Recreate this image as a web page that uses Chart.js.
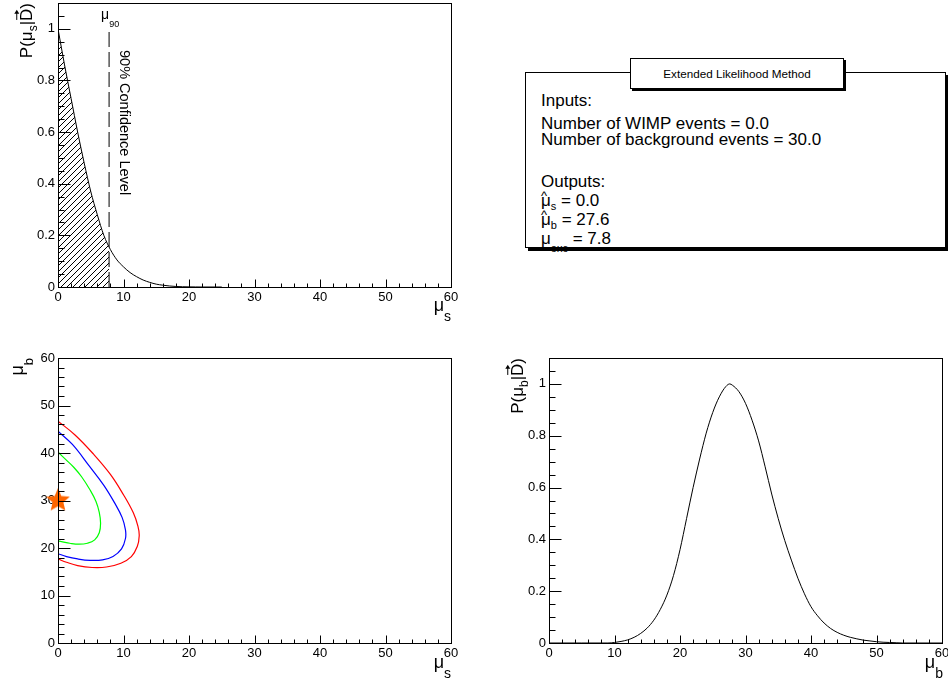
<!DOCTYPE html>
<html>
<head>
<meta charset="utf-8">
<script src="https://cdn.jsdelivr.net/npm/chart.js@4.4.1/dist/chart.umd.min.js"></script>
<style>
    body { margin: 0; width: 948px; height: 683px; position: relative; overflow: hidden; background: #fff;
           font-family: "Liberation Sans", Arial, sans-serif; color: #000; }
    canvas { position: absolute; }
    #box { position: absolute; left: 525px; top: 72px; width: 419px; height: 174px; border: 1px solid #000;
           box-shadow: 3px 3px 0 #000; background: #fff; }
    #boxTitle { position: absolute; left: 630px; top: 58px; width: 212px; height: 29px; border: 1px solid #000;
                box-shadow: 2px 2px 0 #000; background: #fff; font-size: 11.7px; line-height: 29px; text-align: center; }
    .ln { position: absolute; left: 541px; font-size: 17px; line-height: 17px; white-space: nowrap; }
    .sb { font-size: 11px; position: relative; top: 4px; }
    .sb2 { font-size: 11px; position: relative; top: 8px; }
    .hat { position: relative; }
    .hat::after { content: "^"; position: absolute; left: 0; top: -4px; font-size: 13px; }
</style>
</head>
<body>
<canvas id="postSig" width="474" height="341" style="left:0;top:0"></canvas>
<canvas id="contour" width="474" height="342" style="left:0;top:341px"></canvas>
<canvas id="postBkg" width="480" height="342" style="left:474px;top:341px"></canvas>

<div id="box"></div>
<div id="boxTitle">Extended Likelihood Method</div>
<div class="ln" style="top:91.6px">Inputs:</div>
<div class="ln" style="top:114.6px">Number of WIMP events = 0.0</div>
<div class="ln" style="top:131px">Number of background events = 30.0</div>
<div class="ln" style="top:172.6px">Outputs:</div>
<div class="ln" style="top:192px"><span class="hat">μ</span><span class="sb">s</span> = 0.0</div>
<div class="ln" style="top:211px"><span class="hat">μ</span><span class="sb">b</span> = 27.6</div>
<div class="ln" style="top:229.6px">μ<span class="sb2">exc</span> = 7.8</div>

<script>
// posterior of the signal, P(mu_s | D)
const sigMu   = [0, 1, 2, 3, 4, 5, 6, 7, 8, 9, 10, 11, 12, 13, 14, 15, 16, 17, 18, 19, 20, 21, 22, 25];
const sigProb = [1.0, 0.86, 0.73, 0.60, 0.48, 0.37, 0.28, 0.20, 0.145, 0.105, 0.078, 0.056, 0.04, 0.027,
                 0.018, 0.011, 0.007, 0.004, 0.002, 0.001, 0.0005, 0.0002, 0, 0];
const mu90 = 7.8;
const sigProbAtMu90 = 0.155;
const clLabel = '90% Confidence Level';

// posterior of the background, P(mu_b | D)
const bkgMu   = [0, 5, 9, 10, 11, 12, 13, 14, 15, 16, 17, 18, 19, 20, 21, 22, 23, 24, 25, 26, 27, 27.6, 28,
                 29, 30, 31, 32, 33, 34, 35, 36, 37, 38, 39, 40, 41, 42, 43, 44, 45, 46, 47, 48, 49, 50,
                 51, 52, 53, 54, 60];
const bkgProb = [0, 0, 0, 0.002, 0.006, 0.012, 0.022, 0.037, 0.058, 0.088, 0.13, 0.185, 0.26, 0.36, 0.48, 0.60,
                 0.71, 0.81, 0.89, 0.95, 0.99, 1.0, 0.995, 0.97, 0.925, 0.86, 0.78, 0.68, 0.575, 0.48, 0.395,
                 0.32, 0.25, 0.19, 0.14, 0.105, 0.077, 0.056, 0.041, 0.03, 0.022, 0.016, 0.011, 0.008,
                 0.005, 0.003, 0.002, 0.001, 0, 0];

// likelihood contours in the (mu_s, mu_b) plane
const greenMuS = [0, 1.2, 2.4, 3.6, 4.9, 5.8, 6.3, 6.5, 6.3, 5.6, 4.5, 3.2, 1.8, 0.7, 0];
const greenMuB = [40.2, 38.6, 37.0, 35.0, 32.2, 29.8, 27.5, 25.2, 23.2, 21.7, 21.0, 20.8, 21.0, 21.3, 21.5];
const blueMuS  = [0, 2.2, 4.7, 7.0, 8.6, 9.8, 10.3, 10.3, 9.7, 8.4, 6.8, 4.9, 3.0, 1.3, 0];
const blueMuB  = [44.6, 41.8, 37.4, 33.2, 29.6, 26.4, 23.8, 22.0, 19.8, 18.2, 17.5, 17.4, 17.7, 18.2, 18.8];
const redMuS   = [0, 2.6, 5.4, 8.0, 10.0, 11.5, 12.2, 12.4, 12.1, 11.2, 9.6, 7.4, 5.2, 3.0, 1.3, 0];
const redMuB   = [46.7, 43.8, 39.8, 35.5, 31.2, 27.4, 24.6, 22.6, 20.3, 18.2, 16.8, 16.0, 15.9, 16.3, 17.0, 17.7];
const starMuS = [0];
const starMuB = [30];

// axis ticks
const muTicks   = [0, 10, 20, 30, 40, 50, 60];
const probTicks = [0, 0.2, 0.4, 0.6, 0.8, 1];

const FONT = '"Liberation Sans", Arial, sans-serif';
Chart.defaults.font.family = FONT;
Chart.defaults.font.size = 13;
Chart.defaults.color = '#000';

function toPoints(xs, ys) {
    return xs.map((x, i) => ({ x, y: ys[i] }));
}

// text made of pieces, e.g. mu with a subscript
function drawParts(ctx, parts, x, y, align) {
    ctx.save();
    ctx.fillStyle = '#000';
    ctx.strokeStyle = '#000';
    ctx.textAlign = 'left';
    ctx.textBaseline = 'alphabetic';
    const widths = parts.map((p) => {
        ctx.font = p.size + 'px ' + FONT;
        return ctx.measureText(p.t).width;
    });
    const total = widths.reduce((s, w) => s + w, 0);
    let cx = align === 'right' ? x - total : x;
    parts.forEach((p, i) => {
        ctx.font = p.size + 'px ' + FONT;
        ctx.fillText(p.t, cx, y + (p.dy || 0));
        if (p.arrow) {
            const top = y - p.size * 0.72 - 3;
            const end = cx + widths[i] - 1;
            ctx.lineWidth = 1;
            ctx.beginPath();
            ctx.moveTo(cx + 1, top);
            ctx.lineTo(end - 2, top);
            ctx.stroke();
            ctx.beginPath();
            ctx.moveTo(end, top);
            ctx.lineTo(end - 4, top - 2.5);
            ctx.lineTo(end - 4, top + 2.5);
            ctx.closePath();
            ctx.fill();
        }
        cx += widths[i];
    });
    ctx.restore();
}

function drawRotated(ctx, parts, x, y) {
    ctx.save();
    ctx.translate(x, y);
    ctx.rotate(-Math.PI / 2);
    drawParts(ctx, parts, 0, 0, 'right');
    ctx.restore();
}

const probTitle = (sub) => [
    { t: 'P(μ', size: 17 }, { t: sub, size: 12, dy: 5 }, { t: '|', size: 17 },
    { t: 'D', size: 17, arrow: true }, { t: ')', size: 17 }
];

// ROOT-like frame with ticks pointing into the pad
const rootFrame = {
    id: 'rootFrame',
    afterDatasetsDraw(chart, args, opts) {
        const { ctx, chartArea: a, scales: { x, y } } = chart;
        ctx.save();
        ctx.strokeStyle = '#000';
        ctx.lineWidth = 1;
        ctx.strokeRect(Math.round(a.left) + 0.5, Math.round(a.top) + 0.5,
                       Math.round(a.right - a.left), Math.round(a.bottom - a.top));
        ctx.beginPath();
        const bottom = Math.round(a.bottom) + 0.5;
        const left = Math.round(a.left) + 0.5;
        const nx = Math.round((x.max - x.min) / opts.xMinor);
        for (let i = 0; i <= nx; i++) {
            const v = x.min + i * opts.xMinor;
            const len = opts.xMajor.some((m) => Math.abs(m - v) < 1e-6) ? 8 : 4;
            const px = Math.round(x.getPixelForValue(v)) + 0.5;
            ctx.moveTo(px, bottom);
            ctx.lineTo(px, bottom - len);
        }
        const ny = Math.round((y.max - y.min) / opts.yMinor);
        for (let i = 0; i <= ny; i++) {
            const v = y.min + i * opts.yMinor;
            const len = opts.yMajor.some((m) => Math.abs(m - v) < 1e-6) ? 12 : 6;
            const py = Math.round(y.getPixelForValue(v)) + 0.5;
            ctx.moveTo(left, py);
            ctx.lineTo(left + len, py);
        }
        ctx.stroke();
        ctx.restore();
    }
};

function axes(xMax, xTicks, yMax, yTicks, yFmt, yWidth, xHeight) {
    return {
        x: {
            type: 'linear', min: 0, max: xMax,
            afterBuildTicks: (s) => { s.ticks = xTicks.map((v) => ({ value: v })); },
            afterFit: (s) => { s.height = xHeight; s.paddingLeft = 0; s.paddingRight = 0; },
            ticks: { padding: 3, maxRotation: 0, autoSkip: false, callback: (v) => String(v) },
            grid: { display: false, drawTicks: false },
            border: { display: false }
        },
        y: {
            type: 'linear', min: 0, max: yMax,
            afterBuildTicks: (s) => { s.ticks = yTicks.map((v) => ({ value: v })); },
            afterFit: (s) => { s.width = yWidth; s.paddingTop = 0; s.paddingBottom = 0; },
            ticks: { padding: 3, autoSkip: false, callback: yFmt },
            grid: { display: false, drawTicks: false },
            border: { display: false }
        }
    };
}

const probFmt = (v) => String(Math.round(v * 10) / 10);
const baseOptions = {
    responsive: false,
    animation: false,
    events: [],
    plugins: { legend: { display: false }, tooltip: { enabled: false } }
};

// top-left: signal posterior
const sigCanvas = document.getElementById('postSig');
const hatchTile = document.createElement('canvas');
hatchTile.width = hatchTile.height = 6;
(function () {
    const g = hatchTile.getContext('2d');
    g.strokeStyle = '#000';
    g.lineWidth = 1;
    g.beginPath();
    g.moveTo(0, 6); g.lineTo(6, 0);
    g.moveTo(-1, 1); g.lineTo(1, -1);
    g.moveTo(5, 7); g.lineTo(7, 5);
    g.stroke();
})();
const hatch = sigCanvas.getContext('2d').createPattern(hatchTile, 'repeat');

const hatchPoints = toPoints(sigMu, sigProb).filter((p) => p.x < mu90);
hatchPoints.push({ x: mu90, y: sigProbAtMu90 });

new Chart(sigCanvas, {
    type: 'scatter',
    data: {
        datasets: [{
            data: hatchPoints,
            showLine: true,
            fill: 'origin',
            backgroundColor: hatch,
            borderColor: 'rgba(0,0,0,0)',
            borderWidth: 0,
            pointRadius: 0,
            cubicInterpolationMode: 'monotone'
        }, {
            data: toPoints(sigMu, sigProb),
            showLine: true,
            borderColor: '#000',
            borderWidth: 1,
            pointRadius: 0,
            cubicInterpolationMode: 'monotone'
        }, {
            data: [{ x: mu90, y: 0 }, { x: mu90, y: 1 }],
            showLine: true,
            borderColor: '#000',
            borderWidth: 1,
            borderDash: [15, 5],
            pointRadius: 0
        }]
    },
    options: Object.assign({}, baseOptions, {
        layout: { padding: { left: 0, top: 3, right: 23, bottom: 0 } },
        scales: axes(60, muTicks, 1.1, probTicks, probFmt, 58, 54),
        plugins: Object.assign({}, baseOptions.plugins, {
            rootFrame: { xMajor: muTicks, xMinor: 2, yMajor: probTicks, yMinor: 0.05 }
        })
    }),
    plugins: [rootFrame, {
        id: 'sigText',
        afterDatasetsDraw(chart) {
            const { ctx, chartArea: a, scales: { x, y } } = chart;
            const px = x.getPixelForValue(mu90);
            drawParts(ctx, [{ t: 'μ', size: 14 }, { t: '90', size: 9, dy: 8 }], px - 8, y.getPixelForValue(1) - 9.5, 'left');
            ctx.save();
            ctx.translate(px + 11, a.top + 47);
            ctx.rotate(Math.PI / 2);
            ctx.font = '14.5px ' + FONT;
            ctx.fillStyle = '#000';
            ctx.fillText(clLabel, 0, 0);
            ctx.restore();
            drawParts(ctx, [{ t: 'μ', size: 18 }, { t: 's', size: 14, dy: 10 }], a.right, a.bottom + 24, 'right');
            drawRotated(ctx, probTitle('s'), a.left - 26, a.top);
        }
    }]
});

// bottom-left: contours
const star = document.createElement('canvas');
star.width = star.height = 26;
(function () {
    const g = star.getContext('2d');
    const r = 12.5, ri = r * 0.45;
    g.beginPath();
    for (let k = 0; k < 10; k++) {
        const ang = -Math.PI / 2 + k * Math.PI / 5;
        const rr = k % 2 ? ri : r;
        g.lineTo(13 + rr * Math.cos(ang), 13 + rr * Math.sin(ang));
    }
    g.closePath();
    g.fillStyle = '#ff6600';
    g.fill();
})();

function contourSet(xs, ys, color) {
    return {
        data: toPoints(xs, ys),
        showLine: true,
        borderColor: color,
        borderWidth: 1.2,
        pointRadius: 0,
        tension: 0.4
    };
}

new Chart(document.getElementById('contour'), {
    type: 'scatter',
    data: {
        datasets: [
            contourSet(redMuS, redMuB, '#ff0000'),
            contourSet(blueMuS, blueMuB, '#0000ff'),
            contourSet(greenMuS, greenMuB, '#00ff00'),
            {
                data: toPoints(starMuS, starMuB),
                pointStyle: star,
                pointRadius: 12,
                clip: false
            }
        ]
    },
    options: Object.assign({}, baseOptions, {
        layout: { padding: { left: 0, top: 17, right: 23, bottom: 0 } },
        scales: axes(60, muTicks, 60, muTicks, (v) => String(v), 58, 40),
        plugins: Object.assign({}, baseOptions.plugins, {
            rootFrame: { xMajor: muTicks, xMinor: 2, yMajor: muTicks, yMinor: 2 }
        })
    }),
    plugins: [{
        id: 'contourText',
        afterDatasetsDraw(chart) {
            const { ctx, chartArea: a } = chart;
            drawParts(ctx, [{ t: 'μ', size: 18 }, { t: 's', size: 14, dy: 10 }], a.right, a.bottom + 25, 'right');
            drawRotated(ctx, [{ t: 'μ', size: 18 }, { t: 'b', size: 13, dy: 10 }], a.left - 35, a.top);
        }
    }, rootFrame]
});

// bottom-right: background posterior
new Chart(document.getElementById('postBkg'), {
    type: 'scatter',
    data: {
        datasets: [{
            data: toPoints(bkgMu, bkgProb),
            showLine: true,
            borderColor: '#000',
            borderWidth: 1,
            pointRadius: 0,
            cubicInterpolationMode: 'monotone'
        }]
    },
    options: Object.assign({}, baseOptions, {
        layout: { padding: { left: 0, top: 17, right: 12, bottom: 0 } },
        scales: axes(60, muTicks, 1.1, probTicks, probFmt, 75, 40),
        plugins: Object.assign({}, baseOptions.plugins, {
            rootFrame: { xMajor: muTicks, xMinor: 2, yMajor: probTicks, yMinor: 0.05 }
        })
    }),
    plugins: [rootFrame, {
        id: 'bkgText',
        afterDatasetsDraw(chart) {
            const { ctx, chartArea: a } = chart;
            drawParts(ctx, [{ t: 'μ', size: 18 }, { t: 'b', size: 14, dy: 10 }], a.right + 1, a.bottom + 25, 'right');
            drawRotated(ctx, probTitle('b'), a.left - 26, a.top);
        }
    }]
});
</script>
</body>
</html>
